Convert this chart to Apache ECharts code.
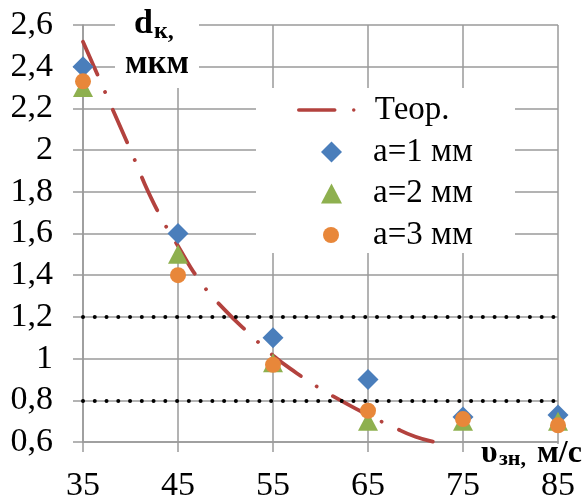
<!DOCTYPE html>
<html><head><meta charset="utf-8">
<script src="https://cdn.jsdelivr.net/npm/echarts@6/dist/echarts.min.js"></script>
<style>html,body{margin:0;padding:0;background:#fff}#c{width:587px;height:498px}</style>
</head><body><div id="c"></div>
<script>
// ---- data ----
var xCats = [35, 45, 55, 65, 75, 85];
var a1 = [2.40, 1.60, 1.10, 0.90, 0.72, 0.73];
var a2 = [2.30, 1.50, 0.98, 0.70, 0.70, 0.70];
var a3 = [2.33, 1.40, 0.97, 0.75, 0.71, 0.68];
var theorX = [35, 37.5, 40, 42.5, 45, 47.5, 50, 52.5, 55, 57.5, 60, 62.5, 65, 67.5, 70, 72.5, 75];
var theorY = [2.52, 2.26, 2.00, 1.74, 1.54, 1.36, 1.23, 1.12, 1.015, 0.93, 0.855, 0.79, 0.73, 0.675, 0.625, 0.595, 0.57];
var refLevels = [1.2, 0.8];
var seriesNames = ['Теор.', 'а=1 мм', 'а=2 мм', 'а=3 мм'];

function pairs(xs, ys) { return xs.map(function (x, i) { return [x, ys[i]]; }); }

var FF = 'Liberation Serif';
var GRID = '#9a9a9a';
var RED = '#B3423E';
var BLUE = '#4A7EBB', GREEN = '#8EB04F', ORANGE = '#E8873A';

function legendFor(name, left, top, w, h, pad) {
  return {
    orient: 'vertical', left: left, top: top, padding: 0,
    itemWidth: w, itemHeight: h, itemGap: 0,
    symbolKeepAspect: true,
    lineStyle: {width: 3.5, cap: 'round'},
    textStyle: {fontFamily: FF, fontSize: 33, color: '#000', lineHeight: 34, padding: [0, 0, 0, pad]},
    data: [name === seriesNames[0] ? {name: name, itemStyle: {opacity: 0}} : name]
  };
}

var chart = echarts.init(document.getElementById('c'), null, {renderer: 'canvas'});
chart.setOption({
  animation: false,
  backgroundColor: '#fff',
  grid: {left: 83, right: 29, top: 25, bottom: 56, containLabel: false, outerBoundsMode: 'none'},
  xAxis: {
    type: 'value', min: 35, max: 85, interval: 10,
    axisLine: {show: true, lineStyle: {color: GRID, width: 1.5}},
    axisTick: {show: true, length: 10, lineStyle: {color: GRID, width: 1.5}},
    splitLine: {show: true, lineStyle: {color: GRID, width: 1.5}},
    axisLabel: {color: '#000', fontFamily: FF, fontSize: 34, margin: 27}
  },
  yAxis: {
    type: 'value', min: 0.6, max: 2.6, interval: 0.2,
    axisLine: {show: true, lineStyle: {color: GRID, width: 1.5}},
    axisTick: {show: true, length: 10, lineStyle: {color: GRID, width: 1.5}},
    splitLine: {show: true, lineStyle: {color: GRID, width: 1.5}},
    axisLabel: {color: '#000', fontFamily: FF, fontSize: 34, margin: 30,
      formatter: function (v) { return String(+v.toFixed(1)).replace('.', ','); }}
  },
  legend: [
    legendFor(seriesNames[0], 297, 93, 71, 20, 0),
    legendFor(seriesNames[1], 321, 135, 21, 21, 26),
    legendFor(seriesNames[2], 321, 176.5, 21, 20, 26),
    legendFor(seriesNames[3], 323, 218, 16, 16, 29)
  ],
  series: [
    {
      name: seriesNames[0], type: 'line', data: pairs(theorX, theorY),
      smooth: true, symbol: 'none', z: 2,
      lineStyle: {color: RED, width: 3.8, type: [36, 19, 0.01, 19], cap: 'round'},
      itemStyle: {color: RED},
      markLine: {
        silent: true, symbol: ['none', 'none'], label: {show: false},
        lineStyle: {color: '#000', width: 4, type: [0.01, 11.75], cap: 'round'},
        data: refLevels.map(function (v) { return {yAxis: v}; })
      }
    },
    {name: seriesNames[1], type: 'scatter', symbol: 'diamond', symbolSize: [21, 21],
      data: pairs(xCats, a1), itemStyle: {color: BLUE, opacity: 1}, z: 3},
    {name: seriesNames[2], type: 'scatter', symbol: 'triangle', symbolSize: [20, 19],
      data: pairs(xCats, a2), itemStyle: {color: GREEN, opacity: 1}, z: 4},
    {name: seriesNames[3], type: 'scatter', symbol: 'circle', symbolSize: 16,
      data: pairs(xCats, a3), itemStyle: {color: ORANGE, opacity: 1}, z: 5}
  ],
  graphic: [
    {type: 'rect', z: 1, shape: {x: 256, y: 88, width: 259, height: 165}, style: {fill: '#fff'}},
    {type: 'rect', z: 100, shape: {x: 115, y: 10, width: 84, height: 78}, style: {fill: '#fff'}},
    {type: 'text', z: 101, x: 134, y: 24, style: {text: 'd', fontFamily: FF, fontWeight: 'bold', fontSize: 34, fill: '#000', verticalAlign: 'middle', align: 'left'}},
    {type: 'text', z: 101, x: 154, y: 32, style: {text: 'к,', fontFamily: FF, fontWeight: 'bold', fontSize: 24, fill: '#000', verticalAlign: 'middle', align: 'left'}},
    {type: 'text', z: 101, x: 157, y: 64, style: {text: 'мкм', fontFamily: FF, fontWeight: 'bold', fontSize: 33, fill: '#000', verticalAlign: 'middle', align: 'center'}},
    {type: 'rect', z: 100, shape: {x: 480, y: 444, width: 107, height: 26}, style: {fill: '#fff'}},
    {type: 'text', z: 101, x: 481, y: 454, style: {text: 'υ', fontFamily: FF, fontWeight: 'bold', fontSize: 32, fill: '#000', verticalAlign: 'middle', align: 'left'}},
    {type: 'text', z: 101, x: 499, y: 459, style: {text: 'зн,', fontFamily: FF, fontWeight: 'bold', fontSize: 22, fill: '#000', verticalAlign: 'middle', align: 'left'}},
    {type: 'text', z: 101, x: 537, y: 454, style: {text: 'м/с', fontFamily: FF, fontWeight: 'bold', fontSize: 32, fill: '#000', verticalAlign: 'middle', align: 'left'}}
  ]
});
</script></body></html>
